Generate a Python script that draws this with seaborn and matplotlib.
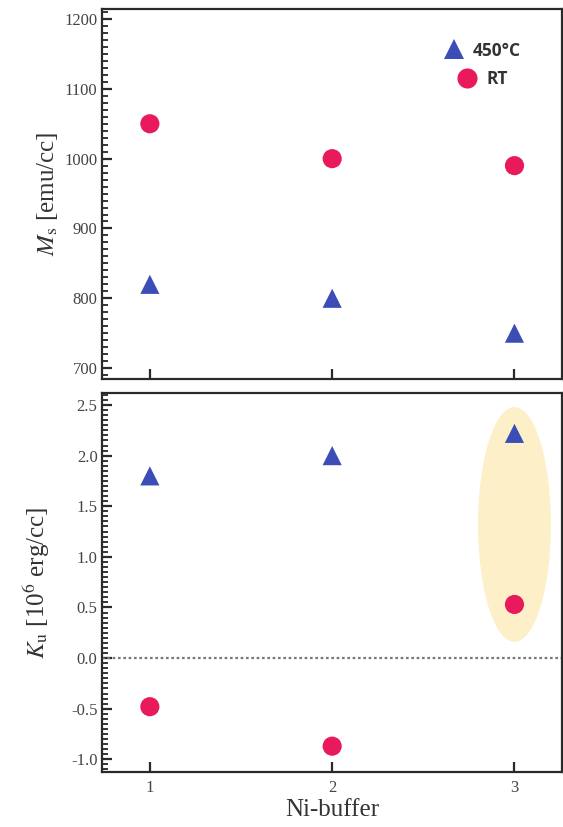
import numpy as np
import pandas as pd
import seaborn as sns
import matplotlib.pyplot as plt
from matplotlib.patches import Ellipse
from matplotlib.ticker import MultipleLocator

# values
ni_buffer = [1, 2, 3]
ms_450 = [820, 800, 750]
ms_rt = [1050, 1000, 990]
ku_450 = [1.80, 2.00, 2.22]
ku_rt = [-0.48, -0.87, 0.53]
labels = ['450°C', 'RT']

sns.set_style('ticks')
plt.rcParams['font.family'] = ['Liberation Serif', 'DejaVu Serif']
plt.rcParams['mathtext.fontset'] = 'stix'
plt.rcParams['axes.unicode_minus'] = False

df = pd.DataFrame({
    'x': ni_buffer * 2,
    'Ms': ms_450 + ms_rt,
    'Ku': ku_450 + ku_rt,
    'anneal': [labels[0]] * 3 + [labels[1]] * 3,
})

palette = {'450°C': '#3c4db6', 'RT': '#e81a5b'}
markers = {'450°C': '^', 'RT': 'o'}

fig = plt.figure(figsize=(5.63, 8.27), dpi=100)
ax1 = fig.add_axes([0.182, 0.5414, 0.816, 0.4474])
ax2 = fig.add_axes([0.182, 0.0669, 0.816, 0.4573])

for ax, col in [(ax1, 'Ms'), (ax2, 'Ku')]:
    sns.scatterplot(data=df, x='x', y=col, hue='anneal', style='anneal',
                    palette=palette, markers=markers, s=190, linewidth=0,
                    ax=ax, legend=(ax is ax1), zorder=3)

# highlight on the third sample in Ku
ax2.add_patch(Ellipse((3.0, 1.32), 0.40, 2.32, facecolor='#fdf0c8',
                      edgecolor='none', zorder=1))
ax2.axhline(0, color='#777777', ls=(0, (1.2, 1.2)), lw=1.6, zorder=2)

ax1.set_ylim(684, 1214)
ax2.set_ylim(-1.122, 2.614)
for ax in (ax1, ax2):
    ax.set_xlim(0.74, 3.26)
    ax.set_xticks(ni_buffer)
    for s in ax.spines.values():
        s.set_linewidth(1.6)
        s.set_color('#2a2a2a')
        s.set_visible(True)
    ax.tick_params(axis='both', direction='in', labelsize=12, colors='#2a2a2a',
                   labelcolor='#444444')
    ax.tick_params(axis='y', which='major', length=7, width=1.6)
    ax.tick_params(axis='y', which='minor', length=4, width=1.3, direction='in')
    ax.tick_params(axis='x', which='major', length=7, width=1.6, pad=6)
    ax.set_xlabel('')

ax1.yaxis.set_major_locator(MultipleLocator(100))
ax1.yaxis.set_minor_locator(MultipleLocator(10))
ax2.yaxis.set_major_locator(MultipleLocator(0.5))
ax2.yaxis.set_minor_locator(MultipleLocator(0.05))
ax2.yaxis.set_major_formatter(plt.FormatStrFormatter('%.1f'))
ax1.tick_params(axis='x', labelbottom=False)

ax1.set_ylabel(r'$M_\mathrm{s}$ [emu/cc]', fontsize=18, color='#333333', labelpad=3)
ax2.set_ylabel(r'$K_\mathrm{u}$ [10$^6$ erg/cc]', fontsize=18, color='#333333', labelpad=14)
ax2.set_xlabel('Ni-buffer', fontsize=18, color='#333333', labelpad=2)

leg = ax1.legend(loc='upper right', bbox_to_anchor=(0.945, 0.955), frameon=False,
                 handletextpad=0.1, labelspacing=0.6, markerscale=1.05,
                 prop={'family': 'Open Sans', 'weight': 'bold', 'size': 12.5})
for t in leg.get_texts():
    t.set_color('#333333')
# rows centred on each other, as in the reference
for col in leg._legend_handle_box.get_children():
    col.align = 'center'

fig.savefig('out.png', dpi=100)
